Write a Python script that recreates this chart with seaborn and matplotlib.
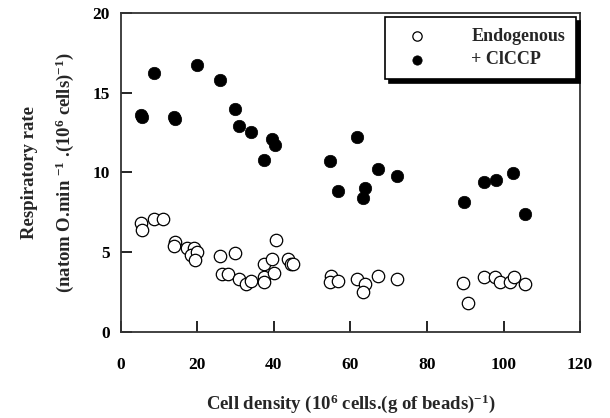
import matplotlib
matplotlib.use("Agg")
import matplotlib.pyplot as plt
import seaborn as sns
import pandas as pd

# Endogenous (open circles)
endo_x = [5.2, 5.6, 8.7, 10.9, 14.1, 13.9, 17.4, 19.1, 18.3, 19.8, 19.4, 25.8, 29.9,
          26.5, 28.0, 30.8, 32.8, 34.1, 37.3, 37.3, 37.3, 39.5, 40.0, 40.5, 43.7,
          44.4, 45.1, 54.9, 54.7, 56.8, 61.7, 63.7, 63.3, 67.3, 72.2, 89.5, 90.8,
          94.9, 97.8, 99.0, 101.6, 102.6, 105.7]
endo_y = [6.8, 6.4, 7.11, 7.11, 5.63, 5.38, 5.27, 5.27, 4.83, 4.98, 4.52, 4.75, 4.92,
          3.6, 3.6, 3.31, 3.01, 3.22, 4.23, 3.47, 3.16, 4.56, 3.72, 5.79, 4.56,
          4.23, 4.27, 3.53, 3.16, 3.22, 3.33, 3.03, 2.51, 3.52, 3.31, 3.08, 1.82,
          3.45, 3.45, 3.12, 3.12, 3.45, 3.03]

# + ClCCP (filled circles)
cl_x = [5.2, 5.6, 8.7, 13.8, 14.1, 19.8, 25.8, 29.9, 30.9, 34.1, 37.3, 39.5, 40.4,
        54.7, 56.7, 61.7, 63.3, 63.9, 67.3, 72.2, 89.6, 95.0, 97.9, 102.4, 105.7]
cl_y = [13.6, 13.5, 16.24, 13.5, 13.35, 16.72, 15.78, 13.98, 12.93, 12.53, 10.78, 12.1, 11.74,
        10.69, 8.81, 12.2, 8.39, 9.02, 10.21, 9.75, 8.12, 9.43, 9.52, 9.96, 7.41]

x_ticks = [0, 20, 40, 60, 80, 100, 120]
y_ticks = [0, 5, 10, 15, 20]

sns.set_theme(style="white")
plt.rcParams['font.family'] = ['Liberation Serif', 'DejaVu Serif']
plt.rcParams['font.weight'] = 'bold'
plt.rcParams['mathtext.fontset'] = 'custom'
plt.rcParams['mathtext.rm'] = 'Liberation Serif:bold'
plt.rcParams['mathtext.bf'] = 'Liberation Serif:bold'
plt.rcParams['mathtext.it'] = 'Liberation Serif:bold'
plt.rcParams['mathtext.default'] = 'bf'

fig = plt.figure(figsize=(6.1, 4.18), dpi=100)
ax = fig.add_axes([0.198, 0.206, 0.753, 0.763])

df_e = pd.DataFrame({"x": endo_x, "y": endo_y})
df_c = pd.DataFrame({"x": cl_x, "y": cl_y})

sns.scatterplot(data=df_e, x="x", y="y", ax=ax, s=80, facecolor="white",
                edgecolor="black", linewidth=0.9, label="Endogenous", zorder=3)
sns.scatterplot(data=df_c, x="x", y="y", ax=ax, s=80, color="black",
                edgecolor="black", linewidth=0.5, label="+ ClCCP", zorder=3)

ax.set_xlim(0, 120)
ax.set_ylim(0, 20)
ax.set_xticks(x_ticks)
ax.set_yticks(y_ticks)
ax.set_xticklabels([str(v) for v in x_ticks], fontsize=12.5, fontweight='bold')
ax.set_yticklabels([str(v) for v in y_ticks], fontsize=12.5, fontweight='bold')
ax.tick_params(axis='x', direction='in', length=8, width=1.2, pad=18, bottom=True, colors='black')
ax.tick_params(axis='y', direction='in', length=8, width=1.2, pad=8, left=True, colors='black')

for sp in ax.spines.values():
    sp.set_visible(True)
    sp.set_color('#333333')
    sp.set_linewidth(1.3)

ax.set_xlabel("Cell density (10$^{6}$ cells.(g of beads)$^{-1}$)", fontsize=13.5,
              fontweight='bold', labelpad=14)
ax.set_ylabel("Respiratory rate\n(natom O.min $^{-1}$ .(10$^{6}$ cells)$^{-1}$)", fontsize=13.5,
              fontweight='bold', labelpad=12, linespacing=1.9)

leg = ax.legend(loc='upper right', bbox_to_anchor=(0.991, 0.987), frameon=True,
                fancybox=False, shadow={'color': 'black', 'alpha': 1.0, 'ox': 3, 'oy': -3},
                prop={'family': 'Liberation Serif', 'weight': 'bold', 'size': 13},
                handletextpad=1.8, borderpad=0.6, labelspacing=0.35, markerscale=0.75,
                borderaxespad=0.0, handlelength=2.4)
leg.get_frame().set_edgecolor('black')
leg.get_frame().set_linewidth(1.2)
for t in leg.get_texts():
    t.set_fontweight('bold')

fig.savefig("out.png", dpi=100)
